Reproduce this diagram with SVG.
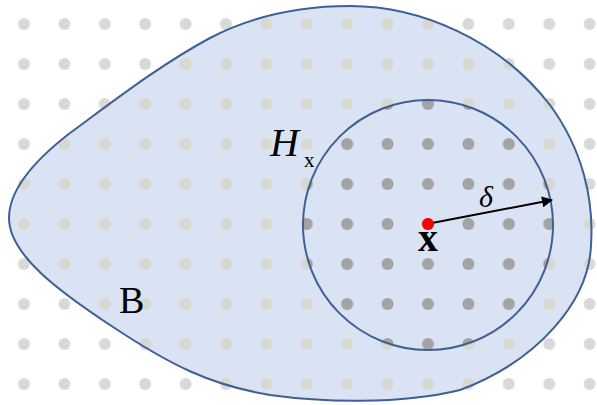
<svg xmlns="http://www.w3.org/2000/svg" width="597" height="405" viewBox="0 0 597 405">
<style>
.outline{fill:none;stroke:#3f5f95;stroke-width:2}
.lbl{font-family:"Liberation Serif","Times New Roman",serif;fill:#000}
</style>
<defs>
<path id="blob" d="M 9,218 C 9,190 35,160 70,133 C 115,100 160,65 210,38 C 260,12 310,6 350,6 C 420,6 500,40 550,105 C 583,150 594,200 591,245 C 589,300 540,360 460,390 C 400,405 320,402 270,395 C 210,385 170,365 110,325 C 60,292 9,255 9,218 Z"/>
<clipPath id="clipBlob"><use href="#blob"/></clipPath>
<clipPath id="clipCircle"><circle cx="428" cy="225" r="125"/></clipPath>
<pattern id="dotsGray" patternUnits="userSpaceOnUse" x="3.8" y="4" width="40.4" height="40"><circle cx="20.2" cy="20" r="6" fill="#d9d9d9"/></pattern>
<pattern id="dotsBeige" patternUnits="userSpaceOnUse" x="3.8" y="4" width="40.4" height="40"><circle cx="20.2" cy="20" r="6" fill="#d8d7d0"/></pattern>
<pattern id="dotsDark" patternUnits="userSpaceOnUse" x="3.8" y="4" width="40.4" height="40"><circle cx="20.2" cy="20" r="6" fill="#a3a3a3"/></pattern>
<marker id="arrow" viewBox="0 0 10 10" refX="9" refY="5" markerWidth="6.5" markerHeight="5.5" orient="auto" markerUnits="strokeWidth"><path d="M0,0 L10,5 L0,10 Z" fill="#000"/></marker>
</defs>
<rect width="597" height="405" fill="#ffffff"/>
<rect width="597" height="405" fill="url(#dotsGray)"/>
<g id="B">
<use href="#blob" fill="#dae3f3"/>
<rect width="597" height="405" fill="url(#dotsBeige)" clip-path="url(#clipBlob)"/>
<use href="#blob" class="outline"/>
<text class="lbl" x="119" y="313" font-size="38">B</text>
</g>
<g id="Hx">
<rect width="597" height="405" fill="url(#dotsDark)" clip-path="url(#clipCircle)"/>
<circle cx="428" cy="225" r="125" class="outline"/>
<text class="lbl" x="270" y="156" font-size="40" font-style="italic">H</text>
<text class="lbl" x="304" y="167" font-size="21">x</text>
</g>
<g id="connectors">
<line x1="432" y1="223" x2="552" y2="200" stroke="#000" stroke-width="2" marker-end="url(#arrow)"/>
<text class="lbl" x="479" y="207" font-size="30" font-style="italic">δ</text>
</g>
<g id="x">
<circle cx="428" cy="224" r="6" fill="#ff0000"/>
<text class="lbl" x="428" y="251" font-size="40" font-weight="bold" text-anchor="middle">x</text>
</g>
</svg>
